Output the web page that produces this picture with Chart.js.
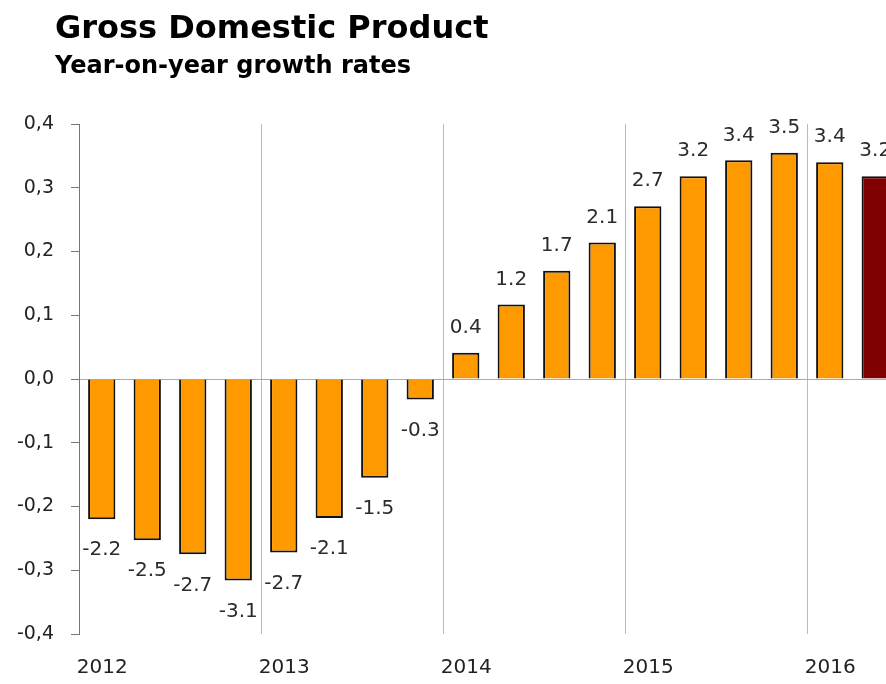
<!DOCTYPE html>
<html>
<head>
<meta charset="utf-8">
<script src="https://cdn.jsdelivr.net/npm/chart.js@4/dist/chart.umd.min.js"></script>
<style>
    body { margin: 0; overflow: hidden; background: #fff; }
    #wrap { position: absolute; left: 0; top: 0; width: 900px; height: 684px; }
    .head { position: absolute; left: 55px; font-family: "DejaVu Sans", sans-serif; font-weight: bold; line-height: 1; color: #000; white-space: nowrap; }
    #title { top: 11px; font-size: 32px; }
    #subtitle { top: 53px; font-size: 24px; }
</style>
</head>
<body>
<div id="wrap">
    <canvas id="gdp" width="900" height="684"></canvas>
</div>
<div id="title" class="head">Gross Domestic Product</div>
<div id="subtitle" class="head">Year-on-year growth rates</div>
<script>
const quarters = ["2012 Q1", "2012 Q2", "2012 Q3", "2012 Q4",
    "2013 Q1", "2013 Q2", "2013 Q3", "2013 Q4",
    "2014 Q1", "2014 Q2", "2014 Q3", "2014 Q4",
    "2015 Q1", "2015 Q2", "2015 Q3", "2015 Q4",
    "2016 Q1", "2016 Q2"];
const years = ["2012", "2013", "2014", "2015", "2016"];
// bar heights as drawn against the left axis
const growth = [-0.22, -0.253, -0.275, -0.316, -0.272, -0.218, -0.155, -0.032,
    0.041, 0.117, 0.17, 0.214, 0.271, 0.318, 0.343, 0.355, 0.34, 0.318];
// numbers printed on the bars
const growthLabels = ["-2.2", "-2.5", "-2.7", "-3.1", "-2.7", "-2.1", "-1.5", "-0.3",
    "0.4", "1.2", "1.7", "2.1", "2.7", "3.2", "3.4", "3.5", "3.4", "3.2"];

const barColors = quarters.map((q, i) => i === quarters.length - 1 ? "#7f0000" : "#ff9900");

const valueLabels = {
    id: "valueLabels",
    afterDatasetsDraw(chart) {
        const ctx = chart.ctx;
        const meta = chart.getDatasetMeta(0);
        ctx.save();
        ctx.font = '20px "DejaVu Sans"';
        ctx.fillStyle = "#2b2b2b";
        ctx.textAlign = "center";
        ctx.textBaseline = "middle";
        meta.data.forEach((bar, i) => {
            let y = growth[i] >= 0 ? bar.y - 25 : bar.y + 31;
            ctx.fillText(growthLabels[i], bar.x, y);
        });
        ctx.restore();
    }
};

new Chart(document.getElementById("gdp"), {
    type: "bar",
    data: {
        labels: quarters,
        datasets: [{
            data: growth,
            backgroundColor: barColors,
            borderColor: "#111",
            borderWidth: 2,
            barPercentage: 0.6,
            categoryPercentage: 1
        }]
    },
    options: {
        responsive: false,
        animation: false,
        layout: {padding: {top: 124, right: 2, left: 0, bottom: 0}},
        plugins: {
            legend: {display: false},
            tooltip: {enabled: false}
        },
        scales: {
            x: {
                offset: true,
                border: {display: false},
                grid: {
                    offset: true,
                    drawTicks: false,
                    lineWidth: 1,
                    color: ctx => (ctx.index % 4 === 0 && ctx.index > 0) ? "#a4bde6" : "transparent"
                },
                ticks: {
                    autoSkip: false,
                    maxRotation: 0,
                    align: "start",
                    labelOffset: -25,
                    padding: 22,
                    color: "#222",
                    font: {family: "DejaVu Sans", size: 20},
                    callback: (v, i) => i % 4 === 0 ? years[i / 4] : ""
                },
                afterFit(scale) { scale.height = 50; }
            },
            y: {
                min: -0.4,
                max: 0.4,
                border: {display: true, color: "#777", width: 1},
                grid: {
                    tickLength: 8,
                    tickColor: "#777",
                    color: ctx => Math.abs(ctx.tick.value) < 1e-9 ? "#aaa" : "transparent"
                },
                ticks: {
                    stepSize: 0.1,
                    padding: 17,
                    color: "#222",
                    font: {family: "DejaVu Sans", size: 19},
                    callback: v => v.toFixed(1).replace(".", ",")
                },
                afterFit(scale) { scale.width = 79; }
            }
        }
    },
    plugins: [valueLabels]
});
</script>
</body>
</html>
